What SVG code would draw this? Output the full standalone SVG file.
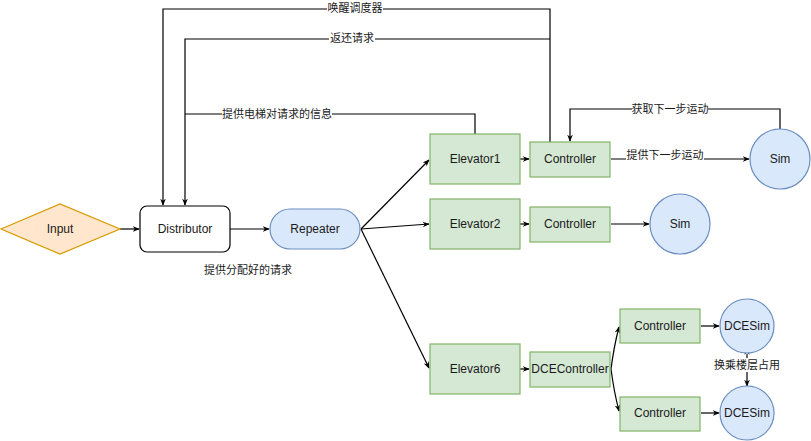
<svg xmlns="http://www.w3.org/2000/svg" width="811" height="441" viewBox="0 0 811 441">
<defs>
<marker id="arr" viewBox="0 0 10 10" refX="9" refY="5" markerWidth="7" markerHeight="7" orient="auto" markerUnits="userSpaceOnUse">
<path d="M0,1 L10,5 L0,9 L3,5 Z" fill="#000"/>
</marker>
<marker id="arrs" viewBox="0 0 10 10" refX="1" refY="5" markerWidth="7" markerHeight="7" orient="auto-start-reverse" markerUnits="userSpaceOnUse">
<path d="M0,1 L10,5 L0,9 L3,5 Z" fill="#000"/>
</marker>
</defs>
<style>
text{font-family:"Liberation Sans","Noto Sans CJK SC",sans-serif;fill:#1a1a1a;text-anchor:middle;dominant-baseline:central}
.n{font-size:12px}
.l{font-size:11px}
.g{fill:#d5e8d4;stroke:#82b366;stroke-width:1.2}
.b{fill:#dae8fc;stroke:#6c8ebf;stroke-width:1.2}
.c{fill:none;stroke:#000;stroke-width:1.2}
.bg{fill:#fff}
</style>
<rect width="811" height="441" fill="#fff"/>
<g id="connectors">
<polyline class="c" points="550,142 550,9 163,9 163,205" marker-end="url(#arr)"/>
<polyline class="c" points="550,39 185,39 185,205" marker-end="url(#arr)"/>
<polyline class="c" points="475,134 475,114 185,114"/>
<line class="c" x1="120" y1="229" x2="139" y2="229" marker-end="url(#arr)"/>
<line class="c" x1="230" y1="229" x2="269" y2="229" marker-end="url(#arr)"/>
<line class="c" x1="361" y1="229" x2="429" y2="160" marker-end="url(#arr)"/>
<line class="c" x1="361" y1="229" x2="429" y2="224" marker-end="url(#arr)"/>
<line class="c" x1="361" y1="229" x2="429" y2="368" marker-end="url(#arr)"/>
<line class="c" x1="520" y1="159" x2="529" y2="159" marker-end="url(#arr)"/>
<line class="c" x1="611" y1="159" x2="749" y2="159" marker-end="url(#arr)"/>
<polyline class="c" points="780,129 780,109 570,109 570,141" marker-end="url(#arr)"/>
<line class="c" x1="520" y1="224" x2="529" y2="224" marker-end="url(#arr)"/>
<line class="c" x1="611" y1="224" x2="649" y2="224" marker-end="url(#arr)"/>
<line class="c" x1="520" y1="369" x2="529" y2="369" marker-end="url(#arr)"/>
<path class="c" d="M611,369 Q614,346 619,327" marker-end="url(#arr)"/>
<path class="c" d="M611,369 Q614,392 619,411" marker-end="url(#arr)"/>
<line class="c" x1="701" y1="326" x2="719" y2="326" marker-end="url(#arr)"/>
<line class="c" x1="701" y1="413" x2="719" y2="413" marker-end="url(#arr)"/>
<line class="c" x1="747" y1="354" x2="747" y2="386" marker-start="url(#arrs)" marker-end="url(#arr)"/>
<rect class="bg" x="327" y="1" width="56" height="14"/>
<text class="l" x="355" y="8">唤醒调度器</text>
<rect class="bg" x="329" y="31" width="46" height="14"/>
<text class="l" x="352" y="38">返还请求</text>
<rect class="bg" x="222" y="107" width="110" height="14"/>
<text class="l" x="277" y="114">提供电梯对请求的信息</text>
<rect class="bg" x="632" y="102" width="76" height="14"/>
<text class="l" x="670" y="109">获取下一步运动</text>
<rect class="bg" x="626" y="148" width="78" height="14"/>
<text class="l" x="665" y="155">提供下一步运动</text>
<rect class="bg" x="714" y="358" width="66" height="14"/>
<text class="l" x="747" y="365">换乘楼层占用</text>
</g>
<g id="input"><polygon points="1,229 60,204 120,229 60,254" fill="#ffe6cc" stroke="#d79b00" stroke-width="1.2"/><text class="n" x="60" y="229">Input</text></g>
<g id="distributor"><rect x="140" y="206" width="90" height="46" rx="7" fill="#fff" stroke="#000" stroke-width="1.2"/><text class="n" x="185" y="229">Distributor</text></g>
<g id="repeater"><rect class="b" x="270" y="209" width="90" height="40" rx="20"/><text class="n" x="315" y="229">Repeater</text></g>
<g id="elevator1"><rect class="g" x="430" y="134" width="90" height="50"/><text class="n" x="475" y="159">Elevator1</text></g>
<g id="controller1"><rect class="g" x="530" y="142" width="80" height="35"/><text class="n" x="570" y="159">Controller</text></g>
<g id="sim1"><circle class="b" cx="780" cy="159" r="30"/><text class="n" x="780" y="159">Sim</text></g>
<g id="elevator2"><rect class="g" x="430" y="199" width="90" height="50"/><text class="n" x="475" y="224">Elevator2</text></g>
<g id="controller2"><rect class="g" x="530" y="207" width="80" height="35"/><text class="n" x="570" y="224">Controller</text></g>
<g id="sim2"><circle class="b" cx="680" cy="224" r="30"/><text class="n" x="680" y="224">Sim</text></g>
<g id="elevator6"><rect class="g" x="430" y="344" width="90" height="50"/><text class="n" x="475" y="369">Elevator6</text></g>
<g id="dcecontroller"><rect class="g" x="530" y="352" width="80" height="35"/><text class="n" x="570" y="369">DCEController</text></g>
<g id="controller3"><rect class="g" x="620" y="309" width="80" height="34"/><text class="n" x="660" y="326">Controller</text></g>
<g id="controller4"><rect class="g" x="620" y="397" width="80" height="34"/><text class="n" x="660" y="413">Controller</text></g>
<g id="dcesim1"><circle class="b" cx="747" cy="326" r="27"/><text class="n" x="747" y="326">DCESim</text></g>
<g id="dcesim2"><circle class="b" cx="747" cy="413" r="27"/><text class="n" x="747" y="413">DCESim</text></g>
<g id="note"><text class="l" x="248" y="270">提供分配好的请求</text></g>
</svg>
